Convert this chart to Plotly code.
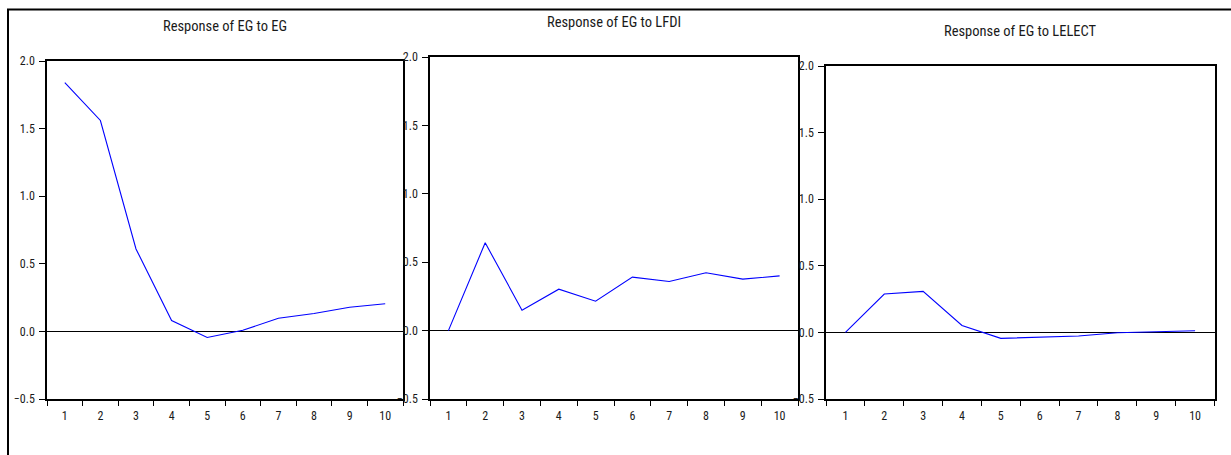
import plotly.graph_objects as go

# Impulse-response horizons and responses of EG to each shock
periods = ["1", "2", "3", "4", "5", "6", "7", "8", "9", "10"]
resp_eg = [1.84, 1.56, 0.61, 0.08, -0.045, 0.008, 0.097, 0.133, 0.179, 0.205]
resp_lfdi = [0.0, 0.642, 0.149, 0.303, 0.215, 0.391, 0.359, 0.423, 0.376, 0.400]
resp_lelect = [0.0, 0.288, 0.308, 0.052, -0.045, -0.034, -0.027, -0.003, 0.003, 0.012]
titles = ["Response of EG to EG", "Response of EG to LFDI", "Response of EG to LELECT"]
y_ticks = [-0.5, 0.0, 0.5, 1.0, 1.5, 2.0]

W, H = 1231, 455
FONT = "Roboto Condensed, Liberation Sans, Arial, sans-serif"
TEXT = "#1a1a1a"

# panel boxes in pixels: left, right, top, bottom; title centre y
panels = [
    (47, 403, 61, 399, 26),
    (430, 798, 57, 399, 22),
    (826, 1214.5, 66, 399, 32),
]
series = [resp_eg, resp_lfdi, resp_lelect]

fig = go.Figure()
layout = dict(
    template="none",
    width=W, height=H,
    margin=dict(l=0, r=0, t=0, b=0, pad=0, autoexpand=False),
    paper_bgcolor="white", plot_bgcolor="white",
    showlegend=False,
    font=dict(family=FONT, size=12, color=TEXT),
)
annotations = []
for i, ((l, r, t, b, ty), vals, title) in enumerate(zip(panels, series, titles), start=1):
    xa = "x" if i == 1 else f"x{i}"
    ya = "y" if i == 1 else f"y{i}"
    fig.add_trace(go.Scatter(
        x=periods, y=vals, mode="lines",
        line=dict(color="rgb(0,0,255)", width=1.1),
        xaxis=xa, yaxis=ya, hoverinfo="x+y",
    ))
    layout[f"xaxis{'' if i == 1 else i}"] = dict(
        domain=[l / W, r / W], anchor=ya, type="category",
        range=[-0.5, 9.5], tickson="boundaries", automargin=False,
        ticks="outside", ticklen=5, tickwidth=1, tickcolor="black",
        ticklabelstandoff=5,
        showline=True, linecolor="black", linewidth=1.5, mirror=True,
        showgrid=False, zeroline=False,
        tickfont=dict(family=FONT, size=12, color=TEXT),
        fixedrange=True,
    )
    layout[f"yaxis{'' if i == 1 else i}"] = dict(
        domain=[(H - b) / H, (H - t) / H], anchor=xa, automargin=False,
        range=[-0.5, 2.0], tickvals=y_ticks, tickformat=".1f",
        ticks="outside", ticklen=6, tickwidth=1, tickcolor="black",
        ticklabelstandoff=2,
        showline=True, linecolor="black", linewidth=1.5, mirror=True,
        showgrid=False, zeroline=True, zerolinecolor="black", zerolinewidth=1,
        tickfont=dict(family=FONT, size=12, color=TEXT),
        fixedrange=True,
    )
    annotations.append(dict(
        text=title, xref="paper", yref="paper",
        x=(l + r) / 2 / W, y=(H - ty) / H, xanchor="center", yanchor="middle",
        showarrow=False, font=dict(family=FONT, size=14.5, color=TEXT),
    ))
layout["annotations"] = annotations

# outer frame around the three panels
layout["shapes"] = [dict(
    type="rect", xref="paper", yref="paper",
    x0=8 / W, x1=1.05, y0=-0.05, y1=(H - 9.5) / H,
    line=dict(color="black", width=2), fillcolor="rgba(0,0,0,0)", layer="above",
)]

fig.update_layout(**layout)
fig.write_html("out.html", include_plotlyjs=True, config={"displayModeBar": False})
